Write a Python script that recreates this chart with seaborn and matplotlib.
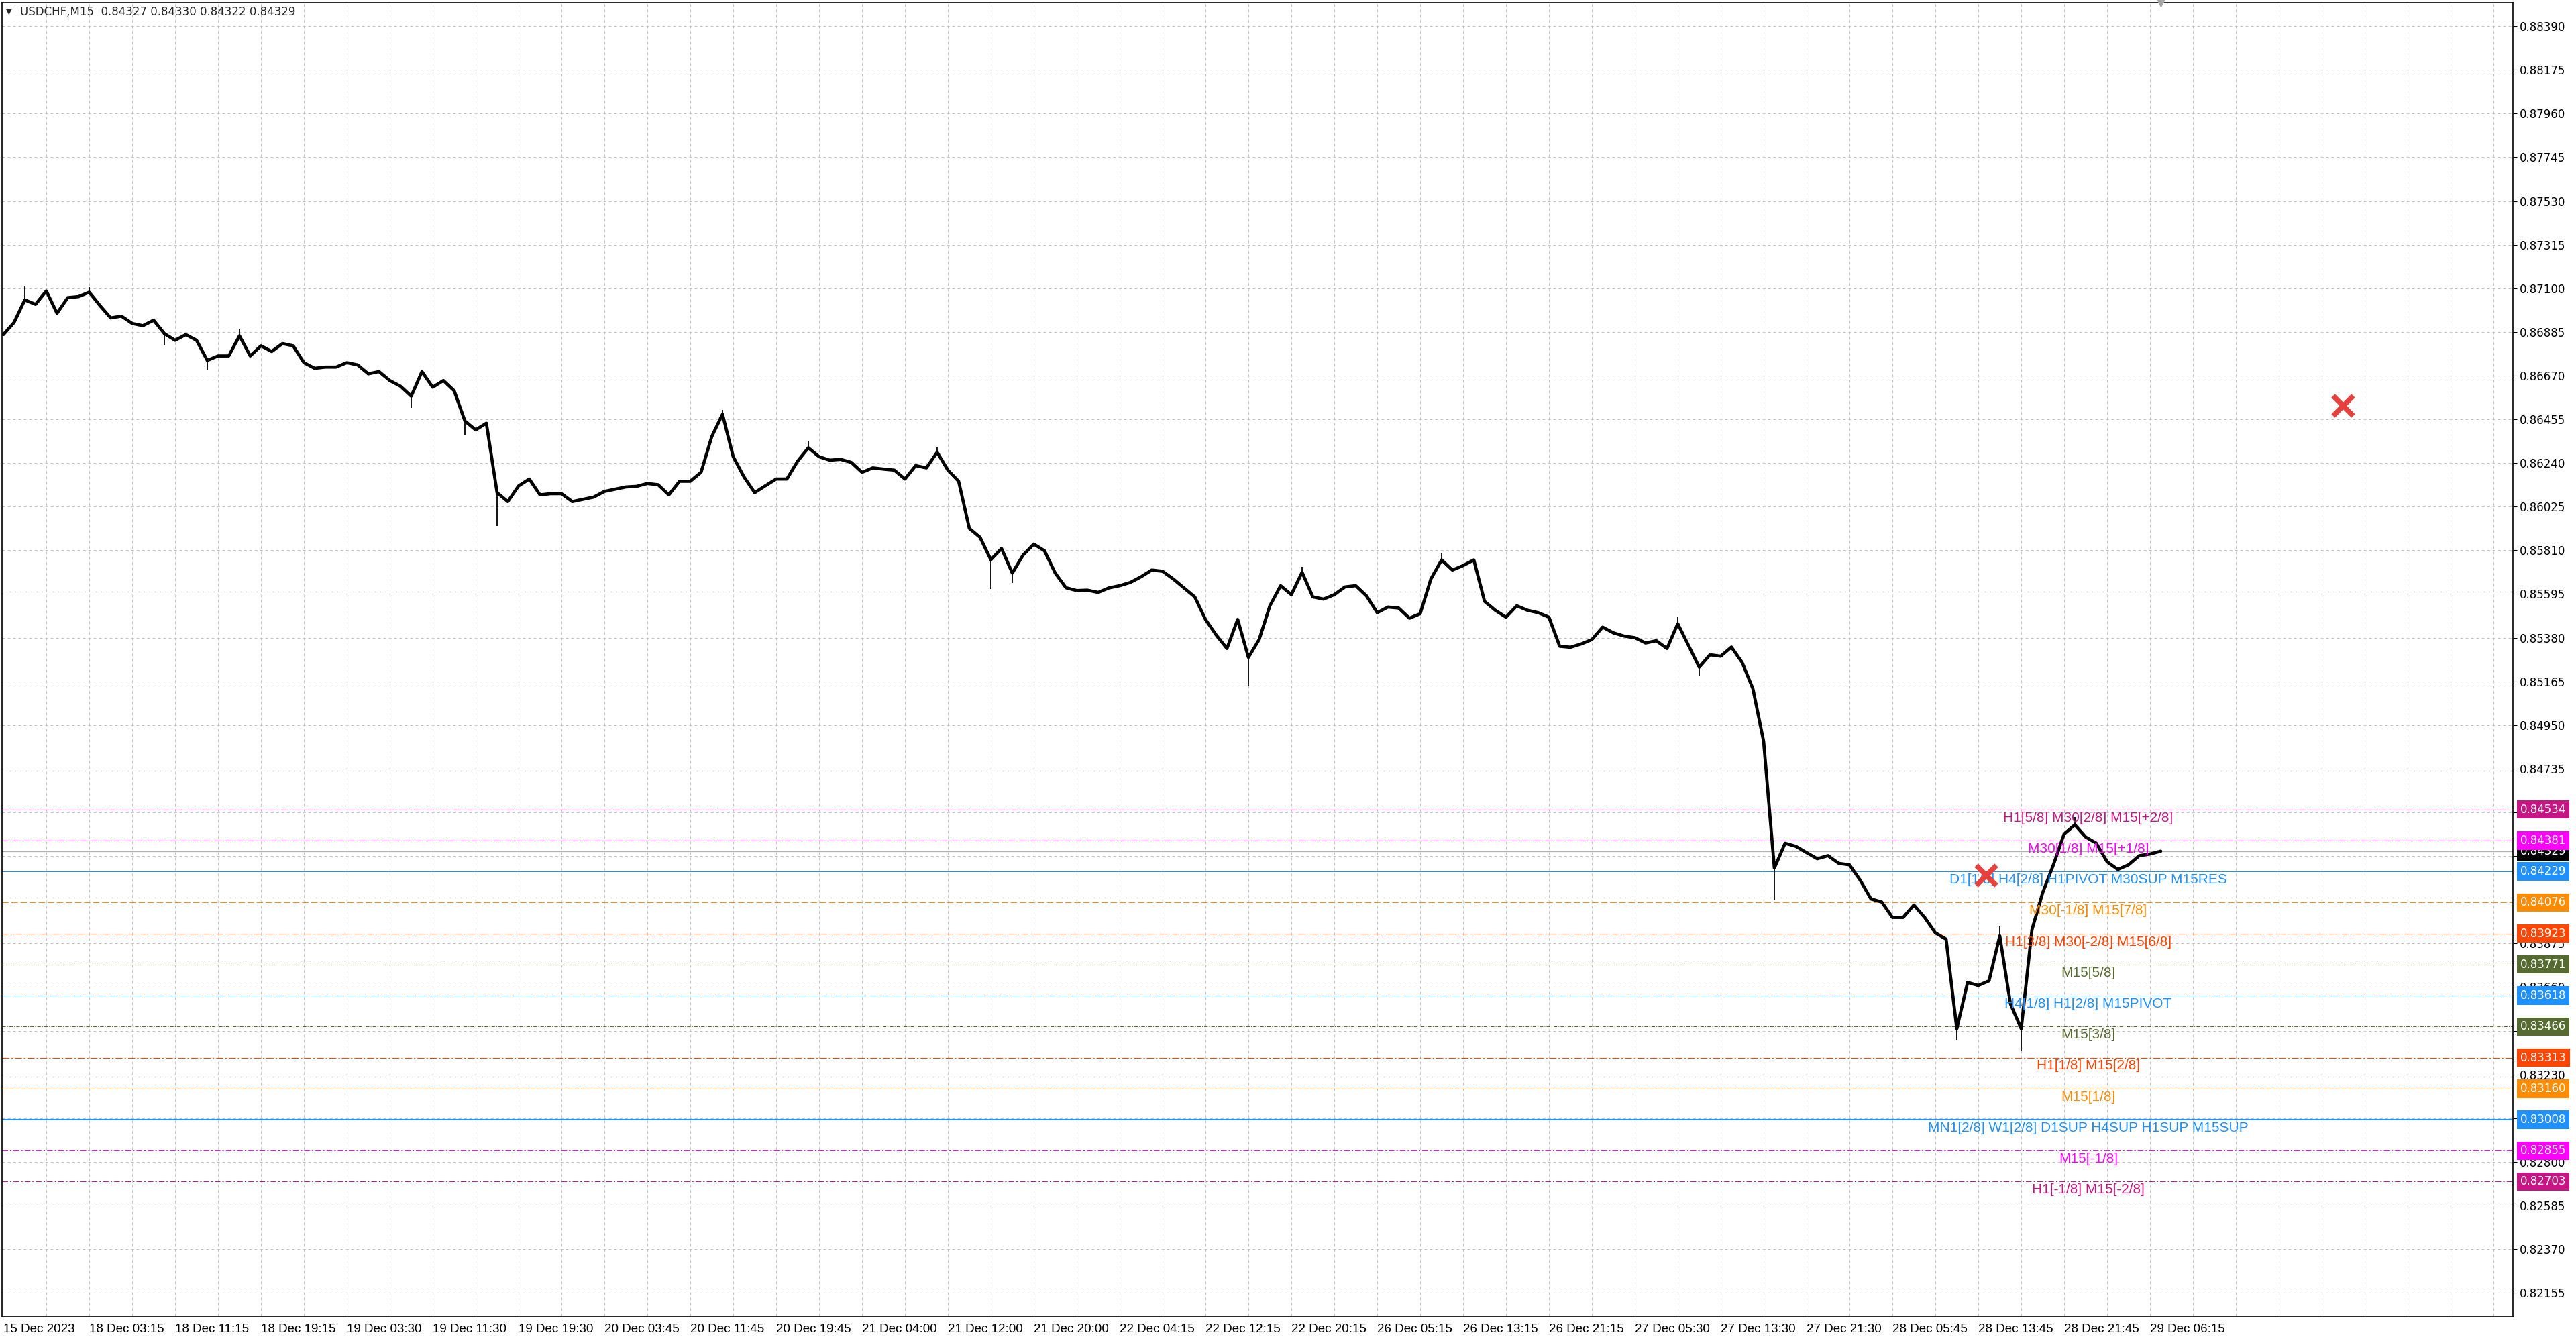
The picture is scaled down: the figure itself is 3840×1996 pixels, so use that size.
#!/usr/bin/env python3
"""USDCHF M15 chart with Murrey-math style levels, redrawn from a terminal screenshot."""

import matplotlib

matplotlib.use("Agg")
import matplotlib.pyplot as plt
import numpy as np
import pandas as pd
import seaborn as sns

sns.set_style("white")
plt.rcParams["font.family"] = ["DejaVu Sans"]

TITLE = "USDCHF,M15  0.84327 0.84330 0.84322 0.84329"
BAR_STEP = 4  # one close every 4 M15 bars
BID = 0.84329

# closes, one per hour
close = [
    0.86872, 0.86932, 0.87043, 0.87021, 0.87087, 0.86977, 0.87054, 0.87059, 0.87081, 0.87015,
    0.86954, 0.86963, 0.86927, 0.86916, 0.86943, 0.86877, 0.86844, 0.86872, 0.86844, 0.86745,
    0.86767, 0.86767, 0.86866, 0.86767, 0.86817, 0.86789, 0.86828, 0.86817, 0.86734, 0.86706,
    0.86712, 0.86712, 0.86734, 0.86723, 0.86679, 0.86690, 0.86646, 0.86618, 0.86569, 0.86690,
    0.86613, 0.86646, 0.86596, 0.86447, 0.86403, 0.86436, 0.86094, 0.86050, 0.86127, 0.86161,
    0.86083, 0.86089, 0.86089, 0.86050, 0.86061, 0.86072, 0.86100, 0.86111, 0.86122, 0.86125,
    0.86139, 0.86133, 0.86083, 0.86150, 0.86150, 0.86194, 0.86370, 0.86480, 0.86271, 0.86172,
    0.86094, 0.86128, 0.86161, 0.86161, 0.86249, 0.86315, 0.86271, 0.86254, 0.86258, 0.86243,
    0.86194, 0.86216, 0.86210, 0.86205, 0.86161, 0.86227, 0.86216, 0.86293, 0.86205, 0.86150,
    0.85918, 0.85874, 0.85764, 0.85819, 0.85698, 0.85786, 0.85841, 0.85808, 0.85698, 0.85626,
    0.85612, 0.85614, 0.85603, 0.85625, 0.85636, 0.85652, 0.85680, 0.85713, 0.85707, 0.85669,
    0.85625, 0.85581, 0.85470, 0.85393, 0.85327, 0.85470, 0.85283, 0.85371, 0.85537, 0.85636,
    0.85592, 0.85702, 0.85581, 0.85570, 0.85592, 0.85630, 0.85636, 0.85586, 0.85503, 0.85531,
    0.85526, 0.85476, 0.85498, 0.85669, 0.85763, 0.85713, 0.85735, 0.85763, 0.85559, 0.85515,
    0.85481, 0.85537, 0.85515, 0.85503, 0.85481, 0.85338, 0.85333, 0.85349, 0.85371, 0.85432,
    0.85404, 0.85388, 0.85380, 0.85354, 0.85365, 0.85327, 0.85449, 0.85342, 0.85235, 0.85296,
    0.85289, 0.85334, 0.85258, 0.85129, 0.84870, 0.84246, 0.84368, 0.84353, 0.84322, 0.84292,
    0.84307, 0.84269, 0.84262, 0.84186, 0.84094, 0.84079, 0.84003, 0.84003, 0.84064, 0.84003,
    0.83927, 0.83896, 0.83455, 0.83683, 0.83668, 0.83691, 0.83912, 0.83577, 0.83455, 0.83942,
    0.84125, 0.84262, 0.84414, 0.84459, 0.84399, 0.84368, 0.84277, 0.84239, 0.84262, 0.84307,
    0.84315, 0.84329,
]

# long wicks (sample index, extreme price)
wick_idx = [2, 8, 15, 19, 22, 38, 43, 46, 67, 75, 87, 92, 94, 116, 121, 134, 156, 158,
            165, 182, 186, 188, 193]
wick_px = [0.87110, 0.87105, 0.86820, 0.86700, 0.86900, 0.86513, 0.86380, 0.85929, 0.86502,
           0.86350, 0.86320, 0.85620, 0.85650, 0.85140, 0.85730, 0.85796, 0.85480, 0.85190,
           0.84090, 0.83400, 0.83960, 0.83346, 0.84497]

level_prices = [0.84534, 0.84381, 0.84229, 0.84076, 0.83923, 0.83771, 0.83618,
                0.83466, 0.83313, 0.83160, 0.83008, 0.82855, 0.82703]
level_names = [
    "H1[5/8] M30[2/8] M15[+2/8]",
    "M30[1/8] M15[+1/8]",
    "D1[1/8] H4[2/8] H1PIVOT M30SUP M15RES",
    "M30[-1/8] M15[7/8]",
    "H1[3/8] M30[-2/8] M15[6/8]",
    "M15[5/8]",
    "H4[1/8] H1[2/8] M15PIVOT",
    "M15[3/8]",
    "H1[1/8] M15[2/8]",
    "M15[1/8]",
    "MN1[2/8] W1[2/8] D1SUP H4SUP H1SUP M15SUP",
    "M15[-1/8]",
    "H1[-1/8] M15[-2/8]",
]
level_colors = ["#C71585", "#FF00FF", "#1E90FF", "#FF8C00", "#FF4500", "#556B2F", "#1E90FF",
                "#556B2F", "#FF4500", "#FF8C00", "#1E90FF", "#FF00FF", "#C71585"]
level_dash = [(10, 3, 3, 3), (8, 3, 2, 3), None, (9, 4), (10, 3, 2, 3), (4, 2), (12, 5),
              (5, 2, 1, 2), (10, 3, 2, 3), (6, 3), None, (8, 3, 2, 3), (8, 3, 2, 3)]
level_lw = [0.75, 0.75, 0.75, 0.75, 0.75, 0.75, 0.75, 0.75, 0.75, 0.75, 1.5, 0.75, 0.75]

price_ticks = [0.88390, 0.88175, 0.87960, 0.87745, 0.87530, 0.87315, 0.87100, 0.86885,
               0.86670, 0.86455, 0.86240, 0.86025, 0.85810, 0.85595, 0.85380, 0.85165,
               0.84950, 0.84735, 0.84520, 0.84305, 0.84090, 0.83875, 0.83660, 0.83445,
               0.83230, 0.83015, 0.82800, 0.82585, 0.82370, 0.82155]

date_labels = ["15 Dec 2023", "18 Dec 03:15", "18 Dec 11:15", "18 Dec 19:15", "19 Dec 03:30",
               "19 Dec 11:30", "19 Dec 19:30", "20 Dec 03:45", "20 Dec 11:45", "20 Dec 19:45",
               "21 Dec 04:00", "21 Dec 12:00", "21 Dec 20:00", "22 Dec 04:15", "22 Dec 12:15",
               "22 Dec 20:15", "26 Dec 05:15", "26 Dec 13:15", "26 Dec 21:15", "27 Dec 05:30",
               "27 Dec 13:30", "27 Dec 21:30", "28 Dec 05:45", "28 Dec 13:45", "28 Dec 21:45",
               "29 Dec 06:15"]

# closed-trade crosses (bar index, price)
cross_bar = [872, 739]
cross_px = [0.86521, 0.84210]


def main() -> None:
    df = pd.DataFrame({"bar": np.arange(len(close)) * BAR_STEP, "close": close})

    fig = plt.figure(figsize=(38.4, 19.96), dpi=100)
    fig.patch.set_facecolor("white")
    ax = fig.add_axes([3 / 3840, 34 / 1996, 3743 / 3840, 1958 / 1996])
    ax.set_xlim(-0.5, 935.25)
    ax.set_ylim(0.82040, 0.88506)

    # grid
    grid_kw = dict(color="#C4C4C4", lw=0.72, linestyle=(0, (4, 4)), zorder=0)
    for b in np.arange(16, 936, 16):
        ax.axvline(b, **grid_kw)
    for p in price_ticks:
        ax.axhline(p, **grid_kw)

    # bid line
    ax.axhline(BID, color="#B0B0B0", lw=0.9, zorder=1)

    # levels
    for p, c, d, lw in zip(level_prices, level_colors, level_dash, level_lw):
        ls = "-" if d is None else (0, d)
        ax.axhline(p, color=c, lw=lw, linestyle=ls, zorder=1)

    # price
    wb = [df["bar"][i] for i in wick_idx]
    wc = [close[i] for i in wick_idx]
    ax.vlines(wb, wc, wick_px, color="black", lw=1.3, zorder=3)
    sns.lineplot(data=df, x="bar", y="close", ax=ax, color="black", lw=3.4, zorder=3,
                 legend=False)

    # level labels
    for p, name, c in zip(level_prices, level_names, level_colors):
        ax.annotate(name, xy=(777, p), xytext=(0, -2), textcoords="offset points",
                    ha="center", va="top", color=c, fontsize=15,
                    family=["Liberation Sans", "DejaVu Sans"], zorder=4)

    ax.plot(cross_bar, cross_px, linestyle="none", marker="x", ms=22, mew=5.5,
            color="#E8403C", zorder=5)

    # axes styling
    for s in ax.spines.values():
        s.set_color("black")
        s.set_linewidth(1.2)
    ax.yaxis.tick_right()
    ax.set_yticks(price_ticks)
    ax.set_yticklabels([f"{p:.5f}" for p in price_ticks])
    ax.tick_params(axis="y", direction="out", length=4, width=0.8, pad=3, labelsize=12,
                   colors="black")
    ax.set_xticks(np.arange(len(date_labels)) * 32)
    ax.set_xticklabels(date_labels, ha="left", family=["Liberation Sans", "DejaVu Sans"])
    ax.tick_params(axis="x", direction="out", length=5, width=0.8, pad=3, labelsize=13.5,
                   colors="black")
    ax.set_xlabel("")
    ax.set_ylabel("")

    # value tags on the price scale
    tags = [(BID, "black")] + list(zip(level_prices, level_colors))
    for p, c in tags:
        ax.annotate(f"{p:.5f}", xy=(1, p), xycoords=("axes fraction", "data"),
                    xytext=(8, 0), textcoords="offset points", ha="left", va="center",
                    color="white", fontsize=12, annotation_clip=False,
                    bbox=dict(boxstyle="square,pad=0.28", fc=c, ec="none"), zorder=6)

    # header
    fig.text(13 / 3840, 1 - 18 / 1996, "\u25bc", fontsize=8, va="center", ha="center")
    fig.text(30 / 3840, 1 - 18 / 1996, TITLE, fontsize=12, va="center", ha="left")
    ax.plot([804], [0.88506], marker="v", ms=9, color="#A8A8A8", clip_on=False, zorder=6)

    fig.savefig("out.png", dpi=100, facecolor="white")
    plt.close(fig)


if __name__ == "__main__":
    main()
